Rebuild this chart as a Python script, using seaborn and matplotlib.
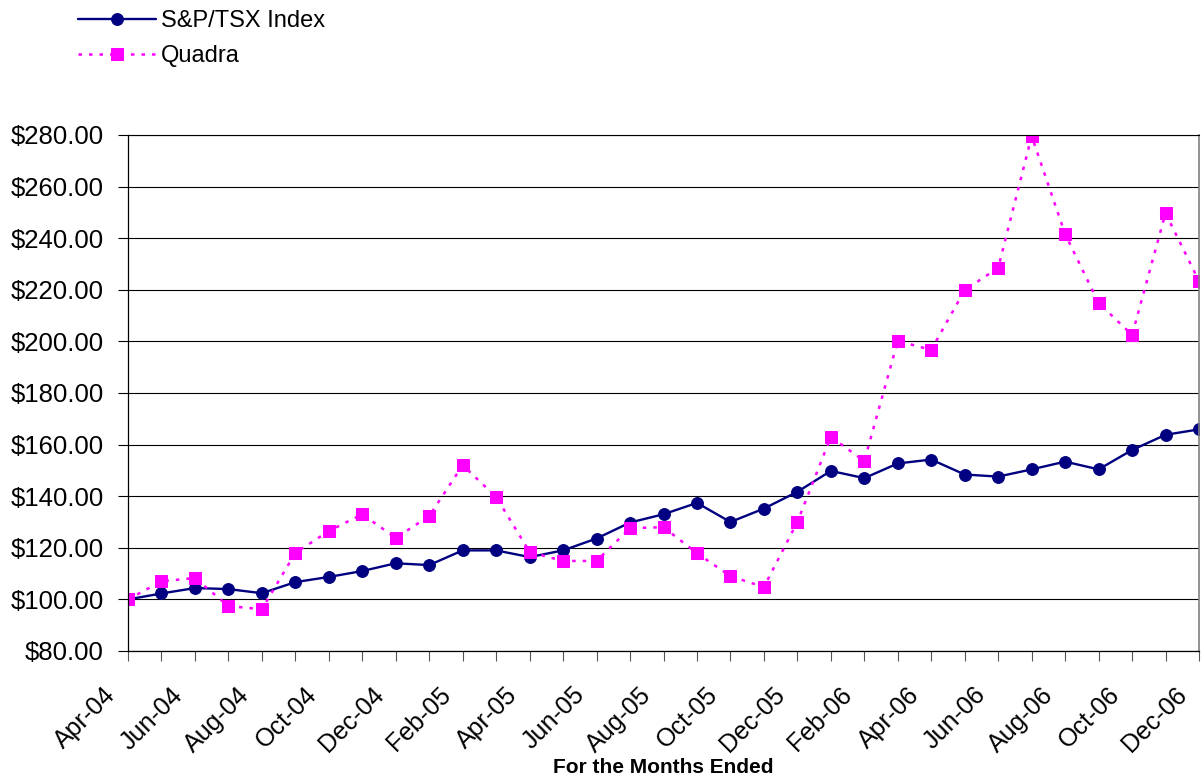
import numpy as np
import pandas as pd
import matplotlib
matplotlib.use("Agg")
import matplotlib.pyplot as plt
import matplotlib.transforms as mtransforms
from matplotlib.ticker import FuncFormatter, MultipleLocator
import seaborn as sns

months = ["Apr-04", "May-04", "Jun-04", "Jul-04", "Aug-04", "Sep-04", "Oct-04", "Nov-04",
          "Dec-04", "Jan-05", "Feb-05", "Mar-05", "Apr-05", "May-05", "Jun-05", "Jul-05",
          "Aug-05", "Sep-05", "Oct-05", "Nov-05", "Dec-05", "Jan-06", "Feb-06", "Mar-06",
          "Apr-06", "May-06", "Jun-06", "Jul-06", "Aug-06", "Sep-06", "Oct-06", "Nov-06",
          "Dec-06"]

tsx = [100.0, 102.3, 104.4, 104.0, 102.4, 106.7, 108.7, 111.0, 114.0, 113.3, 119.0, 119.0,
       116.4, 119.0, 123.6, 129.8, 133.0, 137.4, 130.0, 135.2, 141.7, 149.8, 147.0, 152.7,
       154.2, 148.4, 147.6, 150.4, 153.4, 150.4, 157.9, 163.8, 165.9]

quadra = [100.0, 107.0, 108.3, 97.4, 96.2, 118.0, 126.5, 133.0, 123.8, 132.3, 152.0, 139.7,
          118.4, 114.9, 114.9, 127.6, 128.0, 117.9, 109.0, 104.8, 130.0, 163.0, 153.6, 200.2,
          196.7, 219.9, 228.5, 279.6, 241.6, 214.9, 202.5, 249.7, 223.4]

labels = ["S&P/TSX Index", "Quadra"]
x_title = "For the Months Ended"

df = pd.DataFrame({"idx": np.arange(len(months)), "month": months,
                   "tsx": tsx, "quadra": quadra})

sns.set_theme(style="white")
plt.rcParams["font.family"] = ["Liberation Sans", "DejaVu Sans"]
plt.rcParams["text.color"] = "black"
plt.rcParams["axes.labelcolor"] = "black"
plt.rcParams["xtick.color"] = "black"
plt.rcParams["ytick.color"] = "black"

W, H = 1203, 782
fig = plt.figure(figsize=(W / 100, H / 100), dpi=100)
ax = fig.add_axes([128 / W, 1 - 651 / H, (1199 - 128) / W, (651 - 135) / H])

sns.lineplot(data=df, x="idx", y="tsx", ax=ax, color="#000080", linewidth=1.7,
             marker="o", markersize=8.5, markeredgecolor="#000080", label=labels[0])
sns.lineplot(data=df, x="idx", y="quadra", ax=ax, color="#FF00FF", linewidth=1.8,
             marker="s", markersize=8, markeredgecolor="#FF00FF", label=labels[1],
             linestyle=(0, (1.4, 2.8)))

ax.set_xlim(0, len(months) - 1)
ax.set_ylim(80, 280)
ax.yaxis.set_major_locator(MultipleLocator(20))
ax.yaxis.set_major_formatter(FuncFormatter(lambda v, p: f"${v:,.2f}"))
ax.grid(axis="y", color="black", linewidth=0.8)
ax.grid(axis="x", visible=False)

ax.set_xticks(df["idx"])
ax.set_xticklabels([m if i % 2 == 0 else "" for i, m in enumerate(months)],
                   rotation=45, ha="right", va="center", rotation_mode="anchor")
ax.tick_params(axis="x", direction="out", length=7, width=0.8, color="#555555",
               labelcolor="black", labelsize=18, pad=22, bottom=True)
ax.tick_params(axis="y", direction="out", length=7, width=0.8, color="black",
               labelcolor="black", labelsize=18.5, pad=10.5, left=True)
offset = mtransforms.ScaledTranslation(-0.16, 0, fig.dpi_scale_trans)
for lab in ax.get_xticklabels():
    lab.set_transform(lab.get_transform() + offset)

for s in ["left", "bottom"]:
    ax.spines[s].set_color("black")
    ax.spines[s].set_linewidth(0.9)
ax.spines["right"].set_color("#808080")
ax.spines["right"].set_linewidth(1.2)
ax.spines["top"].set_color("black")
ax.spines["top"].set_linewidth(0.8)

ax.set_ylabel("")
ax.set_xlabel(x_title, fontsize=15, fontweight="bold", color="black")
ax.xaxis.set_label_coords(0.5, -0.208)

ax.get_legend().remove()
handles, labs = ax.get_legend_handles_labels()
fig.legend(handles, labs, loc="upper left", bbox_to_anchor=(78 / W, 1 - 10 / H),
           frameon=False, fontsize=17, handlelength=3.3, handletextpad=0.2,
           labelspacing=0.55, borderpad=0, borderaxespad=0)

fig.savefig("out.png", dpi=100)
